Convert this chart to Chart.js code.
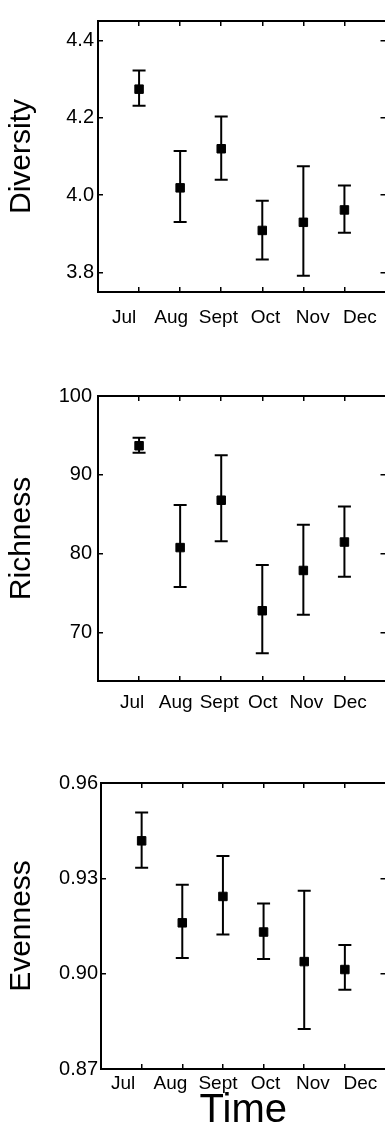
<!DOCTYPE html>
<html><head><meta charset="utf-8">
<script src="https://cdn.jsdelivr.net/npm/chart.js@4.4.1/dist/chart.umd.min.js"></script>
<style>
html,body{margin:0;padding:0;background:#fff;overflow:hidden;width:385px;height:1139px;position:relative;}
canvas{position:absolute;left:0;display:block;}
</style></head><body>
<canvas id="c1" width="394" height="345" style="top:0px"></canvas>
<canvas id="c2" width="394" height="345" style="top:370px"></canvas>
<canvas id="c3" width="394" height="399" style="top:740px"></canvas>
<script>
const months = ['Jul','Aug','Sept','Oct','Nov','Dec'];

const diversityMean  = [4.274, 4.019, 4.120, 3.909, 3.930, 3.962];
const diversityUpper = [4.322, 4.114, 4.203, 3.986, 4.075, 4.025];
const diversityLower = [4.231, 3.931, 4.040, 3.834, 3.792, 3.903];
const diversityTicks = [3.8, 4.0, 4.2, 4.4];

const richnessMean  = [93.7, 80.8, 86.8, 72.8, 77.9, 81.5];
const richnessUpper = [94.7, 86.2, 92.5, 78.6, 83.7, 86.0];
const richnessLower = [92.8, 75.8, 81.6, 67.4, 72.3, 77.1];
const richnessTicks = [70, 80, 90, 100];

const evennessMean  = [0.9418, 0.9160, 0.9243, 0.9131, 0.9038, 0.9013];
const evennessUpper = [0.9507, 0.9280, 0.9370, 0.9221, 0.9261, 0.9090];
const evennessLower = [0.9333, 0.9049, 0.9123, 0.9046, 0.8826, 0.8949];
const evennessTicks = [0.87, 0.90, 0.93, 0.96];

const FONT = "'Liberation Sans', Arial, sans-serif";
const INK = '#000';

function makePanel(id, c) {
  const catTicks = s => { s.ticks = months.map((m, i) => ({value: i})); };
  const valTicks = s => { s.ticks = c.ticks.map(v => ({value: v})); };
  const tickGrid = {drawOnChartArea: false, drawTicks: true, tickLength: -5, color: INK, lineWidth: 1.5};
  const bord = {display: true, color: INK, width: 2};
  const whisker = [];
  months.forEach((m, i) => {
    whisker.push({x: i, y: c.lower[i]}, {x: i, y: c.upper[i]}, {x: i, y: null});
  });
  const caps = months.map((m, i) => ({x: i, y: c.lower[i]}))
    .concat(months.map((m, i) => ({x: i, y: c.upper[i]})));
  const means = months.map((m, i) => ({x: i, y: c.mean[i]}));

  const scales = {
    x: {type: 'linear', position: 'bottom', min: -1, max: 6,
        afterBuildTicks: catTicks, ticks: {display: false},
        grid: tickGrid, border: bord, afterFit: s => { s.height = 0; }},
    xl: {type: 'linear', position: 'bottom', min: c.labMin, max: c.labMax,
        afterBuildTicks: catTicks,
        ticks: {callback: (v, i) => months[i], color: INK, padding: c.labPad,
                maxRotation: 0, autoSkip: false, font: {family: FONT, size: 19}},
        grid: {display: false, drawTicks: false}, border: {display: false},
        title: {display: !!c.xTitle, text: c.xTitle || '', color: INK,
                font: {family: FONT, size: 40}},
        afterFit: s => { s.height = c.xlH; }},
    x2: {type: 'linear', position: 'top', min: -1, max: 6,
        afterBuildTicks: catTicks, ticks: {display: false},
        grid: tickGrid, border: bord, afterFit: s => { s.height = 0; }},
    y: {type: 'linear', position: 'left', min: c.yMin, max: c.yMax,
        afterBuildTicks: valTicks,
        ticks: {callback: v => Number(v).toFixed(c.dec), color: INK, padding: c.yPad,
                font: {family: FONT, size: 20}},
        grid: tickGrid, border: bord,
        title: {display: true, text: c.title, color: INK, font: {family: FONT, size: 30}},
        afterFit: s => { s.width = c.yW; }},
    y2: {type: 'linear', position: 'right', min: c.yMin, max: c.yMax,
        afterBuildTicks: valTicks, ticks: {display: false},
        grid: tickGrid, border: {display: false}, afterFit: s => { s.width = 6; }}
  };

  new Chart(document.getElementById(id), {
    type: 'scatter',
    data: {datasets: [
      {data: means, pointStyle: 'rect', pointRadius: 6, backgroundColor: INK,
       borderColor: INK, borderWidth: 1, showLine: false},
      {data: caps, pointStyle: 'line', pointRadius: 6.5, borderColor: INK,
       borderWidth: 2, showLine: false},
      {data: whisker, showLine: true, spanGaps: false, pointRadius: 0,
       borderColor: INK, borderWidth: 2}
    ]},
    options: {
      responsive: false, animation: false, events: [],
      layout: {padding: {top: c.padTop, left: 0, right: 0, bottom: 0}},
      plugins: {legend: {display: false}, tooltip: {enabled: false}},
      scales
    }
  });
}

makePanel('c1', {mean: diversityMean, upper: diversityUpper, lower: diversityLower,
  ticks: diversityTicks, yMin: 3.75, yMax: 4.45, dec: 1, title: 'Diversity',
  padTop: 9, xlH: 53, labPad: 14, yPad: 9, yW: 98, labMin: -0.552, labMax: 5.542});
makePanel('c2', {mean: richnessMean, upper: richnessUpper, lower: richnessLower,
  ticks: richnessTicks, yMin: 63.9, yMax: 100, dec: 0, title: 'Richness',
  padTop: 26, xlH: 34, labPad: 10, yPad: 11, yW: 98, labMin: -0.782, labMax: 5.816});
makePanel('c3', {mean: evennessMean, upper: evennessUpper, lower: evennessLower,
  ticks: evennessTicks, yMin: 0.87, yMax: 0.96, dec: 2, title: 'Evenness',
  padTop: 43, xlH: 70, labPad: 3.5, yPad: 8, yW: 101, labMin: -0.464, labMax: 5.528,
  xTitle: 'Time'});
</script>
</body></html>
